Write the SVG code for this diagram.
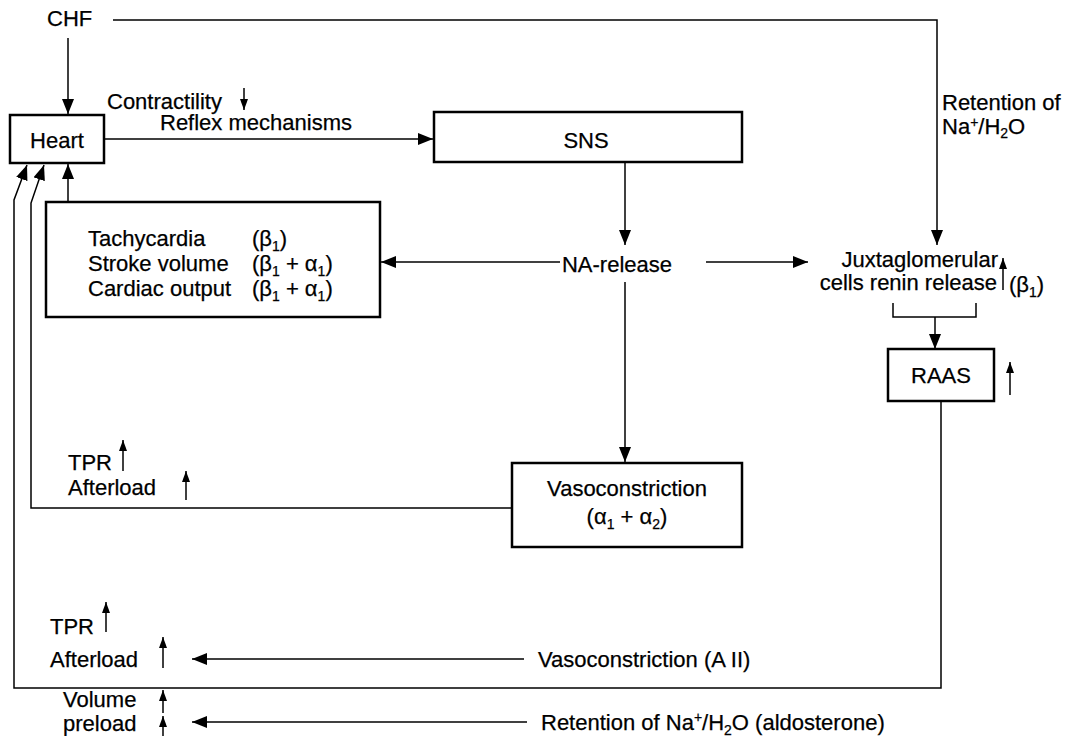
<svg xmlns="http://www.w3.org/2000/svg" width="1074" height="736" viewBox="0 0 1074 736">
<style>
text{font-family:"Liberation Sans",Arial,sans-serif;font-size:22px;fill:#000;stroke:#000;stroke-width:0.25}
.box{fill:#fff;stroke:#000;stroke-width:2.5}
.ln{fill:none;stroke:#000;stroke-width:1.5}
.sub{font-size:14px}
</style>
<defs>
<marker id="ah" markerUnits="userSpaceOnUse" markerWidth="16" markerHeight="12" refX="15" refY="6" orient="auto">
<path d="M0,0 L15,6 L0,12 z" fill="#000"/>
</marker>
<marker id="sa" markerUnits="userSpaceOnUse" markerWidth="12" markerHeight="10" refX="11" refY="4" orient="auto">
<path d="M0,0 L11,4 L0,8 z" fill="#000"/>
</marker>
</defs>
<rect width="1074" height="736" fill="#fff"/>

<g id="connectors">
<line class="ln" x1="68" y1="38" x2="68" y2="114" marker-end="url(#ah)"/>
<polyline class="ln" points="113,20 937,20 937,245" marker-end="url(#ah)"/>
<line class="ln" x1="104" y1="139" x2="433" y2="139" marker-end="url(#ah)"/>
<line class="ln" x1="625" y1="162" x2="625" y2="245" marker-end="url(#ah)"/>
<line class="ln" x1="560" y1="262" x2="381" y2="262" marker-end="url(#ah)"/>
<line class="ln" x1="706" y1="262" x2="808" y2="262" marker-end="url(#ah)"/>
<line class="ln" x1="625" y1="282" x2="625" y2="462" marker-end="url(#ah)"/>
<line class="ln" x1="68" y1="201" x2="68" y2="164" marker-end="url(#ah)"/>
<polyline class="ln" points="512,508 31,508 31,203 44,165" marker-end="url(#ah)"/>
<polyline class="ln" points="941,402 941,688 14,688 14,200 27,165" marker-end="url(#ah)"/>
<polyline class="ln" points="893,303 893,317 976,317 976,303"/>
<line class="ln" x1="935" y1="317" x2="935" y2="349" marker-end="url(#ah)"/>
<line class="ln" x1="524" y1="659" x2="192" y2="659" marker-end="url(#ah)"/>
<line class="ln" x1="527" y1="722" x2="192" y2="722" marker-end="url(#ah)"/>
</g>

<g id="indicators">
<line class="ln" x1="244" y1="88" x2="244" y2="110" marker-end="url(#sa)"/>
<line class="ln" x1="1003" y1="290" x2="1003" y2="258" marker-end="url(#sa)"/>
<line class="ln" x1="1010" y1="395" x2="1010" y2="362" marker-end="url(#sa)"/>
<line class="ln" x1="123" y1="471" x2="123" y2="440" marker-end="url(#sa)"/>
<line class="ln" x1="186" y1="500" x2="186" y2="471" marker-end="url(#sa)"/>
<line class="ln" x1="106" y1="632" x2="106" y2="602" marker-end="url(#sa)"/>
<line class="ln" x1="163" y1="668" x2="163" y2="637" marker-end="url(#sa)"/>
<line class="ln" x1="163" y1="713" x2="163" y2="690" marker-end="url(#sa)"/>
<line class="ln" x1="163" y1="736" x2="163" y2="716" marker-end="url(#sa)"/>
</g>

<g id="chf"><text x="47" y="26">CHF</text></g>
<g id="contractility"><text x="107" y="109">Contractility</text></g>
<g id="heart">
<rect class="box" x="10" y="115" width="94" height="48"/>
<text x="57" y="148" text-anchor="middle">Heart</text>
</g>
<g id="reflex"><text x="160" y="130">Reflex mechanisms</text></g>
<g id="sns">
<rect class="box" x="434" y="112" width="308" height="50"/>
<text x="586" y="148" text-anchor="middle">SNS</text>
</g>
<g id="retention-label">
<text x="942" y="110" font-size="20">Retention of</text>
<text x="942" y="134" font-size="20">Na<tspan class="sub" font-size="13" dy="-7">+</tspan><tspan dy="7">/H</tspan><tspan class="sub" font-size="13" dy="4">2</tspan><tspan dy="-4">O</tspan></text>
</g>
<g id="effects">
<rect class="box" x="46" y="202" width="334" height="115"/>
<text x="88" y="246">Tachycardia</text>
<text x="252" y="246">(β<tspan class="sub" dy="5">1</tspan><tspan dy="-5">)</tspan></text>
<text x="88" y="271">Stroke volume</text>
<text x="252" y="271">(β<tspan class="sub" dy="5">1</tspan><tspan dy="-5"> + α</tspan><tspan class="sub" dy="5">1</tspan><tspan dy="-5">)</tspan></text>
<text x="88" y="296">Cardiac output</text>
<text x="252" y="296">(β<tspan class="sub" dy="5">1</tspan><tspan dy="-5"> + α</tspan><tspan class="sub" dy="5">1</tspan><tspan dy="-5">)</tspan></text>
</g>
<g id="na-release"><text x="617" y="272" text-anchor="middle" font-size="18">NA-release</text></g>
<g id="juxta">
<text x="998" y="267" text-anchor="end" font-size="21">Juxtaglomerular</text>
<text x="997" y="290" text-anchor="end" font-size="20">cells renin release</text>
<text x="1009" y="292">(β<tspan class="sub" dy="5">1</tspan><tspan dy="-5">)</tspan></text>
</g>
<g id="raas">
<rect class="box" x="888" y="349" width="106" height="52"/>
<text x="941" y="383" text-anchor="middle">RAAS</text>
</g>
<g id="vaso">
<rect class="box" x="512" y="463" width="230" height="84"/>
<text x="627" y="496" text-anchor="middle">Vasoconstriction</text>
<text x="627" y="524" text-anchor="middle">(α<tspan class="sub" dy="5">1</tspan><tspan dy="-5"> + α</tspan><tspan class="sub" dy="5">2</tspan><tspan dy="-5">)</tspan></text>
</g>
<g id="tpr1">
<text x="68" y="470">TPR</text>
<text x="68" y="495">Afterload</text>
</g>
<g id="tpr2">
<text x="50" y="634">TPR</text>
<text x="50" y="667">Afterload</text>
</g>
<g id="vaso-a2"><text x="538" y="667">Vasoconstriction (A II)</text></g>
<g id="volume">
<text x="63" y="707" font-size="20">Volume</text>
<text x="63" y="731" font-size="20">preload</text>
</g>
<g id="retention-ald"><text x="541" y="730">Retention of Na<tspan class="sub" dy="-8">+</tspan><tspan dy="8">/H</tspan><tspan class="sub" dy="5">2</tspan><tspan dy="-5">O (aldosterone)</tspan></text></g>
</svg>
